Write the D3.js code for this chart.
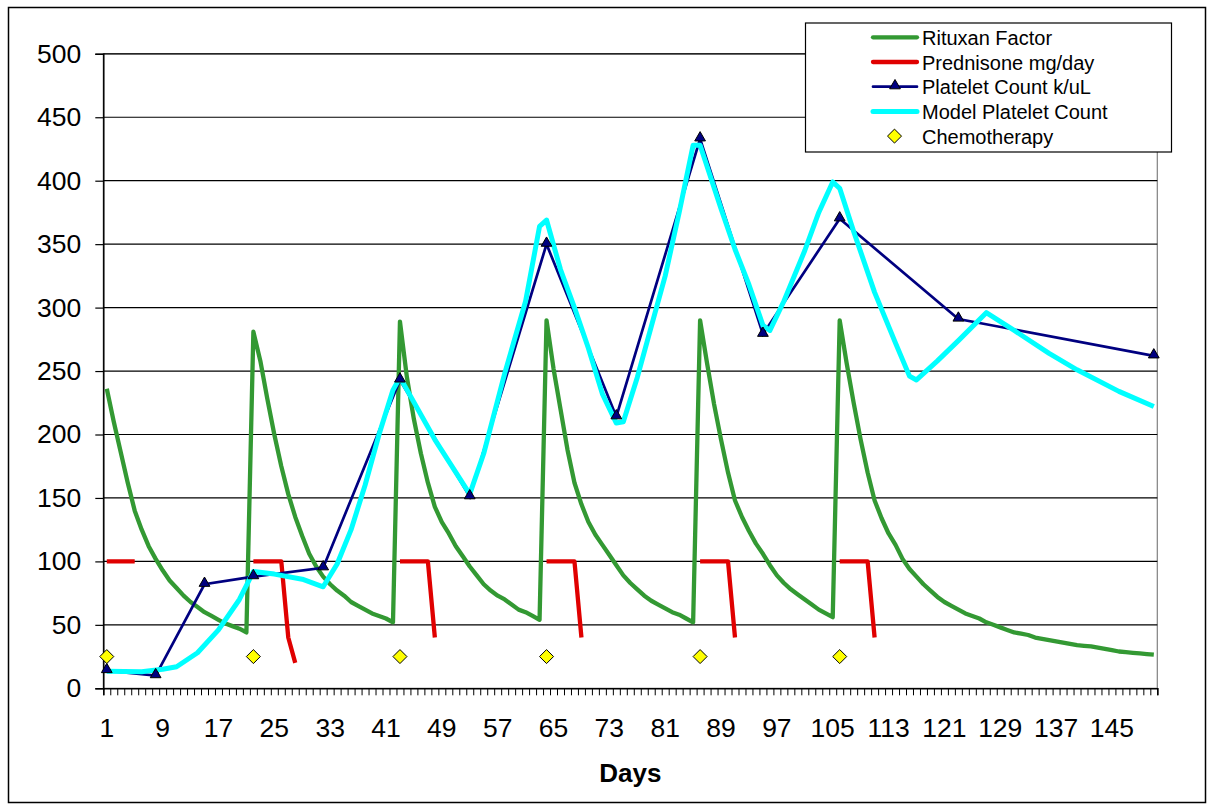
<!DOCTYPE html>
<html>
<head>
<meta charset="utf-8">
<script src="https://cdn.jsdelivr.net/npm/d3@7"></script>
<style>
  body { margin: 0; background: #fff; }
  text { font-family: "Liberation Sans", Arial, sans-serif; fill: #000; }
</style>
</head>
<body>
<script>
let width = 1208, height = 805;

// categories: days 1..151
let days = d3.range(1, 152);
let labelDays = d3.range(1, 152, 8);
let yTicks = d3.range(0, 501, 50);

// Rituxan factor, one value per day
let rituxan = [
  236,210,186,162,140,125,112,102,93,85,79,73,68,64,60,57,54,51,49,47,44,
  281,258,228,200,175,153,135,120,106,96,88,82,77,73,68,65,62,59,57,55,52,
  289,245,212,185,162,143,131,122,112,104,96,89,82,77,73,70,66,62,60,57,54,
  290,252,220,188,162,145,131,121,113,105,97,89,83,78,73,69,66,63,60,58,55,52,
  290,256,224,196,170,148,135,124,114,106,97,89,83,78,74,70,66,62,59,56,
  290,256,225,196,170,148,134,122,113,102,94,88,82,77,72,68,65,62,59,57,
  55,52,50,48,46,44,43,42,40,39,38,37,36,35,34,33.5,33,32,31,30,
  29,28.5,28,27.5,27,26.5
];

// prednisone mg/day (null = no dose, breaks the line)
let predDays = [1,2,3,4,5,null, 22,23,24,25,26,27,28,null, 43,44,45,46,47,48,null,
                64,65,66,67,68,69,null, 86,87,88,89,90,91,null, 106,107,108,109,110,111];
let predVals = [100,100,100,100,100,null, 100,100,100,100,100,40,20,null, 100,100,100,100,100,40,null,
                100,100,100,100,100,40,null, 100,100,100,100,100,40,null, 100,100,100,100,100,40];

// measured platelet count
let plateletDays = [1,8,15,22,32,43,53,64,74,86,95,106,123,151];
let plateletVals = [14,10,82,88,95,243,151,350,214,433,279,370,291,262];

// model platelet count
let modelDays = [1,6,9,11,14,17,20,22,25,29,32,34,36,38,40,42,43,48,53,55,58,61,63,64,
                 66,68,70,72,74,75,77,79,81,83,85,86,89,91,93,95,96,98,101,103,105,106,
                 108,111,114,116,117,120,123,127,131,136,140,146,151];
let modelVals = [13.5,13,15,17,28,46,70,92,90,86,80,98,125,160,200,235,245,196,153,185,248,305,364,369,
                 330,300,268,232,209,210,245,285,325,375,428,428,378,346,318,286,282,305,345,375,399,394,
                 360,312,272,246,243,258,274,296,282,264,251,234,222];

// chemotherapy days
let chemoDays = [1,22,43,64,86,106];
let chemoVal = 25;

let plot = {left: 103.3, right: 1157.3, top: 53.8, bottom: 688.3};

let svg = d3.select("body").append("svg")
    .attr("width", width)
    .attr("height", height);

// chart area
svg.append("rect")
    .attr("x", 8.5).attr("y", 7.5)
    .attr("width", 1197).attr("height", 795)
    .attr("fill", "#fff").attr("stroke", "#000").attr("stroke-width", 1.5);

let x = d3.scaleLinear().domain([0.5, days.length + 0.5]).range([plot.left, plot.right]);
let y = d3.scaleLinear().domain([0, 500]).range([plot.bottom, plot.top]);

// plot area border
svg.append("rect")
    .attr("x", plot.left).attr("y", plot.top)
    .attr("width", plot.right - plot.left).attr("height", plot.bottom - plot.top)
    .attr("fill", "none").attr("stroke", "#808080").attr("stroke-width", 1.2);

// gridlines
svg.append("g").selectAll("line")
    .data(yTicks.filter(d => d > 0))
    .enter().append("line")
    .attr("x1", plot.left).attr("x2", plot.right)
    .attr("y1", d => y(d)).attr("y2", d => y(d))
    .attr("stroke", "#000").attr("stroke-width", 1.2);

// y axis
let yAxis = svg.append("g")
    .attr("transform", "translate(" + plot.left + ",0)")
    .call(d3.axisLeft(y).tickValues(yTicks).tickSize(8).tickPadding(14));
yAxis.select(".domain").attr("stroke", "#000").attr("stroke-width", 1.5);
yAxis.selectAll(".tick line").attr("stroke", "#000").attr("stroke-width", 1.2);
yAxis.selectAll("text")
    .style("font-family", '"Liberation Sans", Arial, sans-serif')
    .style("font-size", "26.5px").attr("fill", "#000");

// x axis: minor ticks at category boundaries
let xAxis = svg.append("g")
    .attr("transform", "translate(0," + plot.bottom + ")")
    .call(d3.axisBottom(x)
        .tickValues(d3.range(0, days.length + 1).map(d => d + 0.5))
        .tickSize(7).tickFormat(""));
xAxis.select(".domain").attr("stroke", "#000").attr("stroke-width", 1.5);
xAxis.selectAll(".tick line").attr("stroke", "#000").attr("stroke-width", 1);

svg.append("g").selectAll("text")
    .data(labelDays)
    .enter().append("text")
    .attr("x", d => x(d))
    .attr("y", 737.3)
    .attr("text-anchor", "middle")
    .style("font-size", "26.5px")
    .text(d => d);

svg.append("text")
    .attr("x", (plot.left + plot.right) / 2)
    .attr("y", 781.5)
    .attr("text-anchor", "middle")
    .style("font-size", "26px")
    .style("font-weight", "bold")
    .text("Days");

// series
let rituxanLine = d3.line()
    .x((d, i) => x(days[i]))
    .y(d => y(d));

svg.append("path")
    .datum(rituxan)
    .attr("d", rituxanLine)
    .attr("fill", "none").attr("stroke", "#339933")
    .attr("stroke-width", 4.3).attr("stroke-linejoin", "round");

let predLine = d3.line()
    .defined((d, i) => predDays[i] !== null)
    .x((d, i) => x(predDays[i]))
    .y(d => y(d));

svg.append("path")
    .datum(predVals)
    .attr("d", predLine)
    .attr("fill", "none").attr("stroke", "#e00000")
    .attr("stroke-width", 4.3).attr("stroke-linejoin", "round");

let plateletLine = d3.line()
    .x((d, i) => x(plateletDays[i]))
    .y(d => y(d));

svg.append("path")
    .datum(plateletVals)
    .attr("d", plateletLine)
    .attr("fill", "none").attr("stroke", "#000080")
    .attr("stroke-width", 2.7);

let modelLine = d3.line()
    .x((d, i) => x(modelDays[i]))
    .y(d => y(d));

svg.append("path")
    .datum(modelVals)
    .attr("d", modelLine)
    .attr("fill", "none").attr("stroke", "#00ffff")
    .attr("stroke-width", 5).attr("stroke-linejoin", "round");

let tri = d3.symbol().type(d3.symbolTriangle).size(50);
svg.append("g").selectAll("path")
    .data(plateletVals)
    .enter().append("path")
    .attr("d", tri)
    .attr("transform", (d, i) => "translate(" + x(plateletDays[i]) + "," + (y(d) - 1) + ")")
    .attr("fill", "#000080").attr("stroke", "#000").attr("stroke-width", 1);

let diamond = d3.symbol().type(d3.symbolDiamond2).size(125);
svg.append("g").selectAll("path")
    .data(chemoDays)
    .enter().append("path")
    .attr("d", diamond)
    .attr("transform", d => "translate(" + x(d) + "," + y(chemoVal) + ")")
    .attr("fill", "#ffff00").attr("stroke", "#000").attr("stroke-width", 1);

// legend
let legend = svg.append("g");
legend.append("rect")
    .attr("x", 805.5).attr("y", 23)
    .attr("width", 366).attr("height", 129)
    .attr("fill", "#fff").attr("stroke", "#000").attr("stroke-width", 1.2);

let legendItems = [
  {name: "Rituxan Factor", color: "#339933", w: 4.3, mark: null},
  {name: "Prednisone mg/day", color: "#e00000", w: 4.3, mark: null},
  {name: "Platelet Count k/uL", color: "#000080", w: 2.7, mark: "tri"},
  {name: "Model Platelet Count", color: "#00ffff", w: 5, mark: null},
  {name: "Chemotherapy", color: null, w: 0, mark: "diamond"}
];

legendItems.forEach((item, i) => {
  let cy = 37.3 + i * 24.7;
  if (item.color) {
    legend.append("line")
      .attr("x1", 873).attr("x2", 917)
      .attr("y1", cy).attr("y2", cy)
      .attr("stroke", item.color).attr("stroke-width", item.w)
      .attr("stroke-linecap", "round");
  }
  if (item.mark === "tri") {
    legend.append("path").attr("d", tri)
      .attr("transform", "translate(895," + (cy - 1) + ")")
      .attr("fill", "#000080").attr("stroke", "#000");
  }
  if (item.mark === "diamond") {
    legend.append("path").attr("d", diamond)
      .attr("transform", "translate(894.5," + cy + ")")
      .attr("fill", "#ffff00").attr("stroke", "#000");
  }
  legend.append("text")
    .attr("x", 922).attr("y", cy + 7.5)
    .style("font-size", "20px")
    .text(item.name);
});
</script>
</body>
</html>
